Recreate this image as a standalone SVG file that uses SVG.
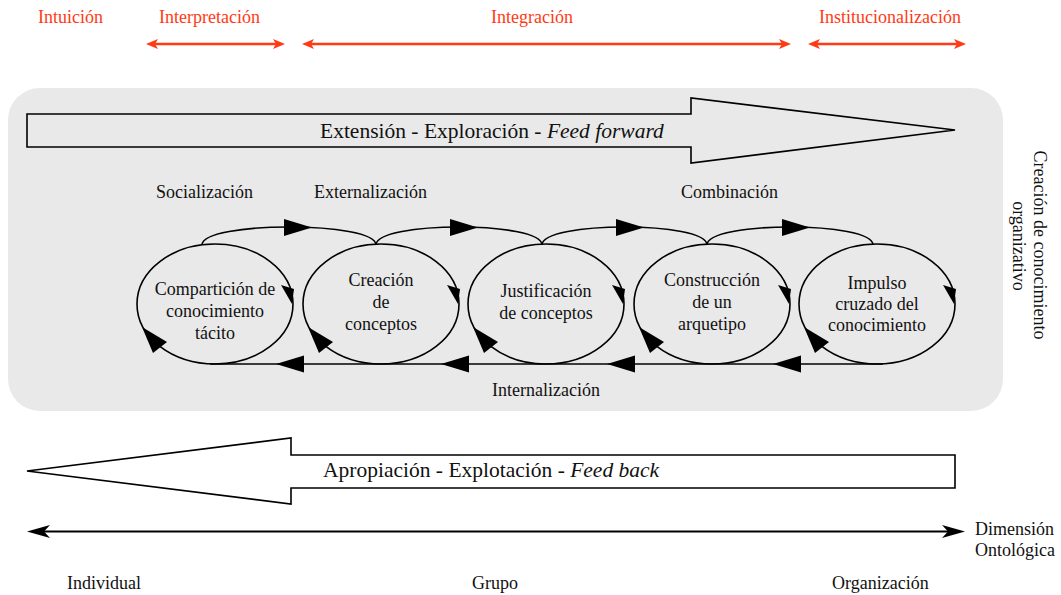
<svg xmlns="http://www.w3.org/2000/svg" width="1061" height="595" viewBox="0 0 1061 595">
<defs>
<style>
text{font-family:"Liberation Serif","Times New Roman",serif;font-size:18px;fill:#111}
.red{fill:#ff3a14}
.big{font-size:21.5px}
.mid{text-anchor:middle}
.ol{fill:none;stroke:#000;stroke-width:1.6}
.ln{fill:none;stroke:#000;stroke-width:1.8}
.rl{fill:none;stroke:#ff3a14;stroke-width:2.6}
.ah{fill:#000}
.rah{fill:#ff3a14}
</style>
</defs>
<rect x="0" y="0" width="1061" height="595" fill="#fff"/>

<g id="phases">
<text class="red" x="38" y="23">Intuición</text>
<text class="red" x="159" y="23">Interpretación</text>
<text class="red" x="491" y="23">Integración</text>
<text class="red" x="819" y="23">Institucionalización</text>
<line class="rl" x1="152" y1="44" x2="279" y2="44"/>
<polygon class="rah" points="146,44 158,39 155,44 158,49"/>
<polygon class="rah" points="285,44 273,39 276,44 273,49"/>
<line class="rl" x1="308" y1="44" x2="785" y2="44"/>
<polygon class="rah" points="302,44 314,39 311,44 314,49"/>
<polygon class="rah" points="791,44 779,39 782,44 779,49"/>
<line class="rl" x1="814" y1="44" x2="960" y2="44"/>
<polygon class="rah" points="808,44 820,39 817,44 820,49"/>
<polygon class="rah" points="966,44 954,39 957,44 954,49"/>
</g>

<rect id="area" x="8" y="88" width="995" height="323" rx="32" fill="#e9e9e9"/>

<g id="feedforward">
<polygon class="ol" points="27,114 691,114 691,98 955,130 691,163 691,147 27,147"/>
<text class="big" x="320" y="138">Extensión - Exploración - <tspan font-style="italic">Feed forward</tspan></text>
</g>

<g id="labels">
<text x="156" y="198">Socialización</text>
<text x="314" y="198">Externalización</text>
<text x="681" y="198">Combinación</text>
<text x="492" y="396">Internalización</text>
</g>

<g id="n1">
<ellipse class="ol" cx="215" cy="304" rx="78" ry="60"/>
<text class="mid" x="215" y="295">Compartición de</text>
<text class="mid" x="215" y="317">conocimiento</text>
<text class="mid" x="215" y="339">tácito</text>
</g>
<g id="n2">
<ellipse class="ol" cx="381" cy="304" rx="78" ry="60"/>
<text class="mid" x="381" y="286">Creación</text>
<text class="mid" x="381" y="308">de</text>
<text class="mid" x="381" y="330">conceptos</text>
</g>
<g id="n3">
<ellipse class="ol" cx="546" cy="304" rx="78" ry="60"/>
<text class="mid" x="546" y="297">Justificación</text>
<text class="mid" x="546" y="319">de conceptos</text>
</g>
<g id="n4">
<ellipse class="ol" cx="712" cy="304" rx="78" ry="60"/>
<text class="mid" x="712" y="286">Construcción</text>
<text class="mid" x="712" y="308">de un</text>
<text class="mid" x="712" y="330">arquetipo</text>
</g>
<g id="n5">
<ellipse class="ol" cx="877" cy="304" rx="78" ry="60"/>
<text class="mid" x="877" y="289">Impulso</text>
<text class="mid" x="877" y="310">cruzado del</text>
<text class="mid" x="877" y="331">conocimiento</text>
</g>

<g id="connectors">
<path class="ol" d="M202,245 C202,221 376,221 376,245"/>
<path class="ol" d="M376,245 C376,221 542,221 542,245"/>
<path class="ol" d="M542,245 C542,221 707,221 707,245"/>
<path class="ol" d="M707,245 C707,221 873,221 873,245"/>
<polygon class="ah" points="284,219 312,227.5 284,236"/>
<polygon class="ah" points="450,219 478,227.5 450,236"/>
<polygon class="ah" points="616,219 644,227.5 616,236"/>
<polygon class="ah" points="782,219 810,227.5 782,236"/>
<path class="ol" d="M210,364 H883"/>
<polygon class="ah" points="276,364 304,355.5 304,372.5"/>
<polygon class="ah" points="441,364 469,355.5 469,372.5"/>
<polygon class="ah" points="607,364 635,355.5 635,372.5"/>
<polygon class="ah" points="773,364 801,355.5 801,372.5"/>
<g id="cycle-arrows">
<polygon class="ah" points="281,285 294,289 292,304"/>
<polygon class="ah" points="447,285 460,289 458,304"/>
<polygon class="ah" points="612,285 625,289 623,304"/>
<polygon class="ah" points="778,285 791,289 789,304"/>
<polygon class="ah" points="943,285 956,289 954,304"/>
<polygon class="ah" points="142,327 153,353 167,342"/>
<polygon class="ah" points="308,327 319,353 333,342"/>
<polygon class="ah" points="473,327 484,353 498,342"/>
<polygon class="ah" points="639,327 650,353 664,342"/>
<polygon class="ah" points="804,327 815,353 829,342"/>
</g>
</g>

<g id="side-label">
<text class="mid" transform="translate(1034,245) rotate(90)">Creación de conocimiento</text>
<text class="mid" transform="translate(1013,246) rotate(90)">organizativo</text>
</g>

<g id="feedback">
<polygon class="ol" points="27,471 291,438 291,455 955,455 955,488 291,488 291,504"/>
<text class="big" x="323" y="477">Apropiación - Explotación - <tspan font-style="italic">Feed back</tspan></text>
</g>

<g id="axis">
<line class="ln" x1="40" y1="531.5" x2="952" y2="531.5"/>
<polygon class="ah" points="27,531.5 50,525 44,531.5 50,538"/>
<polygon class="ah" points="965,531.5 942,525 948,531.5 942,538"/>
<text x="975" y="535">Dimensión</text>
<text x="975" y="556">Ontológica</text>
<text x="67" y="589">Individual</text>
<text x="472" y="589">Grupo</text>
<text x="832" y="589">Organización</text>
</g>
</svg>
